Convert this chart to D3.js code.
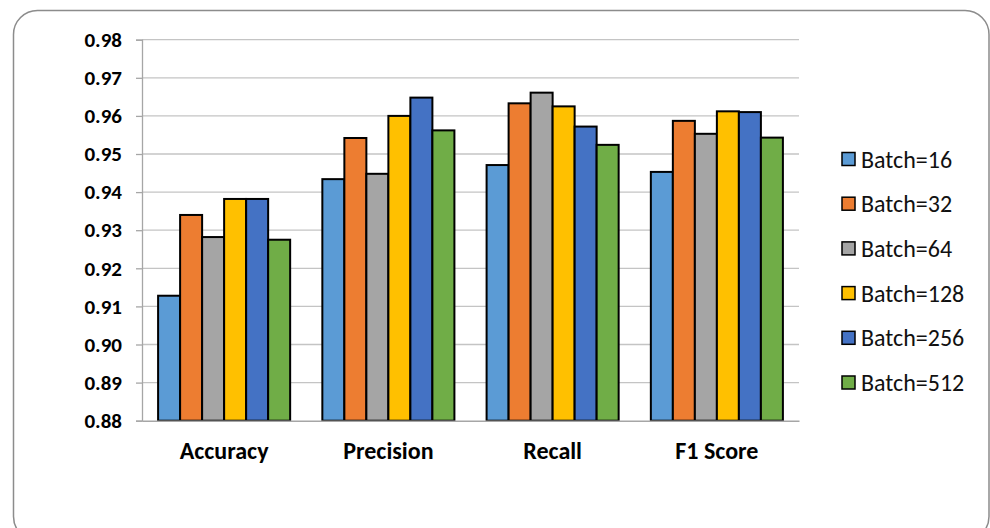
<!DOCTYPE html>
<html>
<head>
<meta charset="utf-8">
<script src="https://cdn.jsdelivr.net/npm/d3@7"></script>
<style>
  html, body { margin: 0; padding: 0; background: #fff; }
  svg { display: block; }
  text { font-family: Carlito, Calibri, Lato, sans-serif; }
</style>
</head>
<body>
<svg id="chart" width="990" height="528"></svg>
<script>
// Metrics on the x axis
const categories = ["Accuracy", "Precision", "Recall", "F1 Score"];
// One series per batch size
const seriesNames = ["Batch=16", "Batch=32", "Batch=64", "Batch=128", "Batch=256", "Batch=512"];
const seriesColors = ["#5B9BD5", "#ED7D31", "#A5A5A5", "#FFC000", "#4472C4", "#70AD47"];
// Values per series, in category order
const batch16  = [0.9128, 0.9434, 0.9471, 0.9453];
const batch32  = [0.9340, 0.9542, 0.9633, 0.9587];
const batch64  = [0.9282, 0.9448, 0.9661, 0.9553];
const batch128 = [0.9382, 0.9600, 0.9625, 0.9612];
const batch256 = [0.9382, 0.9648, 0.9572, 0.9610];
const batch512 = [0.9275, 0.9562, 0.9524, 0.9543];
const seriesValues = [batch16, batch32, batch64, batch128, batch256, batch512];
// Y axis ticks
const yTicks = [0.88, 0.89, 0.90, 0.91, 0.92, 0.93, 0.94, 0.95, 0.96, 0.97, 0.98];

const svg = d3.select("#chart");

// Rounded chart frame
svg.append("rect")
  .attr("x", 13.5).attr("y", 10.5)
  .attr("width", 975.5).attr("height", 530)
  .attr("rx", 24).attr("ry", 24)
  .attr("fill", "#fff")
  .attr("stroke", "#8c8c8c")
  .attr("stroke-width", 1.5);

const plot = { left: 142, right: 799, top: 39.7, bottom: 420.7 };

const x = d3.scaleBand()
  .domain(categories)
  .range([plot.left, plot.right])
  .paddingInner(0.196)
  .paddingOuter(0.098);

const xInner = d3.scaleBand()
  .domain(seriesNames)
  .range([0, x.bandwidth()])
  .padding(0);

const y = d3.scaleLinear()
  .domain([0.88, 0.98])
  .range([plot.bottom, plot.top]);

// Gridlines
svg.append("g")
  .selectAll("line")
  .data(yTicks.slice(1))
  .join("line")
  .attr("x1", plot.left).attr("x2", plot.right)
  .attr("y1", d => y(d)).attr("y2", d => y(d))
  .attr("stroke", "#c4c4c4")
  .attr("stroke-width", 1.3);

// Y axis with outward ticks
const yAxis = svg.append("g")
  .attr("transform", `translate(${plot.left},0)`)
  .call(d3.axisLeft(y).tickValues(yTicks).tickFormat(d3.format(".2f")).tickSize(6).tickPadding(14));
yAxis.select(".domain").attr("stroke", "#a6a6a6").attr("stroke-width", 1.3);
yAxis.selectAll(".tick line").attr("stroke", "#a6a6a6").attr("stroke-width", 1.3);
yAxis.selectAll(".tick text")
  .attr("fill", "#000")
  .style("font-size", "21px")
  .style("font-weight", "bold");

// Bars
const groups = svg.append("g")
  .selectAll("g")
  .data(seriesValues.map((vals, i) => ({ name: seriesNames[i], color: seriesColors[i], vals })))
  .join("g")
  .attr("fill", d => d.color);

groups.selectAll("rect")
  .data(d => d.vals.map((v, j) => ({ name: d.name, cat: categories[j], v })))
  .join("rect")
  .attr("x", d => x(d.cat) + xInner(d.name))
  .attr("y", d => y(d.v))
  .attr("width", xInner.bandwidth())
  .attr("height", d => y(0.88) - y(d.v))
  .attr("stroke", "#000")
  .attr("stroke-width", 2);

// Category axis
const xAxis = svg.append("g")
  .attr("transform", `translate(0,${plot.bottom})`)
  .call(d3.axisBottom(x).tickSize(0).tickPadding(21));
xAxis.select(".domain").attr("stroke", "#a6a6a6").attr("stroke-width", 1.5);
xAxis.selectAll(".tick text")
  .attr("fill", "#000")
  .style("font-size", "24px")
  .style("font-weight", "bold");

// Legend
const legend = svg.append("g")
  .selectAll("g")
  .data(seriesNames)
  .join("g")
  .attr("transform", (d, i) => `translate(842,${159 + i * 44.7})`);

legend.append("rect")
  .attr("x", 0).attr("y", -6.5)
  .attr("width", 13).attr("height", 13)
  .attr("fill", (d, i) => seriesColors[i])
  .attr("stroke", "#000")
  .attr("stroke-width", 1.5);

legend.append("text")
  .attr("x", 19).attr("y", 0)
  .attr("dy", "0.36em")
  .attr("fill", "#111")
  .style("font-size", "24px")
  .text(d => d);
</script>
</body>
</html>
